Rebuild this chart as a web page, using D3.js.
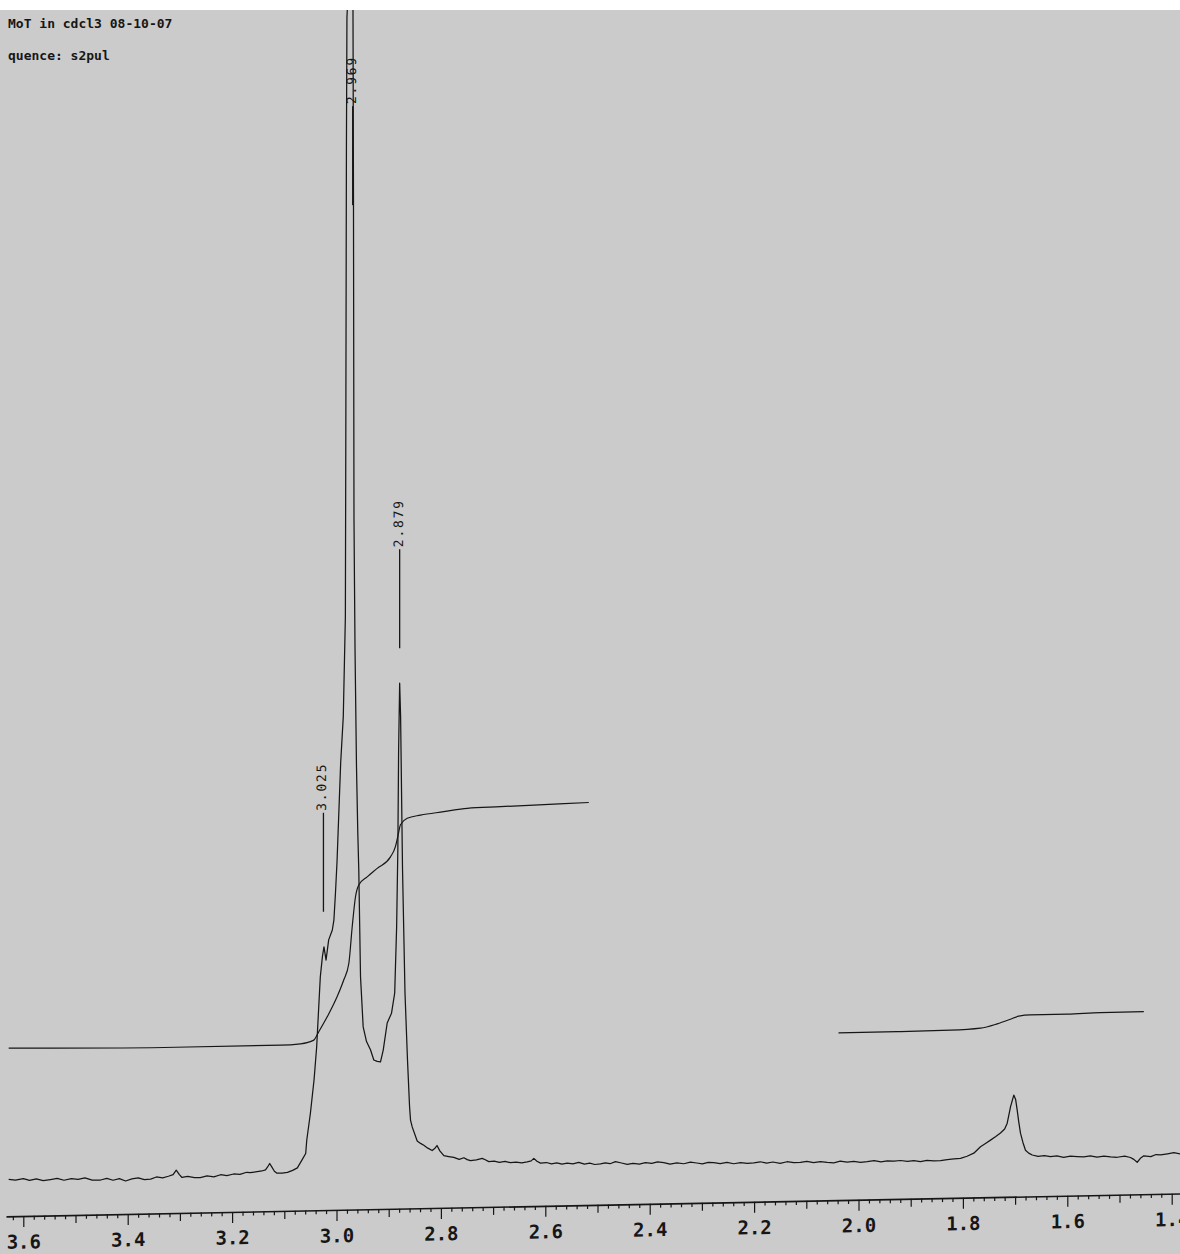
<!DOCTYPE html>
<html>
<head>
<meta charset="utf-8">
<script src="https://cdn.jsdelivr.net/npm/d3@7"></script>
<style>
  html, body { margin: 0; padding: 0; background: #fff; }
  svg { display: block; }
</style>
</head>
<body>
<script>
// 1H NMR trace, chemical shift (ppm) against relative intensity
const shiftPpm = [
  3.628, 3.615, 3.600, 3.588, 3.575, 3.562, 3.548, 3.535, 3.522, 3.508,
  3.495, 3.482, 3.468, 3.452, 3.440, 3.428, 3.416, 3.404, 3.392, 3.380,
  3.368, 3.356, 3.345, 3.333, 3.322, 3.313, 3.307, 3.301, 3.296, 3.285,
  3.272, 3.261, 3.248, 3.235, 3.222, 3.210, 3.197, 3.185, 3.172, 3.165,
  3.152, 3.143, 3.136, 3.132, 3.128, 3.124, 3.119, 3.114, 3.104, 3.094,
  3.084, 3.075, 3.066, 3.059, 3.057, 3.050, 3.043, 3.038, 3.034, 3.031,
  3.027, 3.024, 3.020, 3.015, 3.008, 3.005, 3.002, 2.999, 2.992, 2.987,
  2.983, 2.982, 2.981, 2.980, 2.969, 2.9675, 2.9665, 2.9655, 2.9645, 2.9617,
  2.9592, 2.9573, 2.954, 2.9489, 2.9425, 2.9349, 2.9285, 2.922, 2.9157, 2.9105,
  2.9029, 2.8946, 2.8885, 2.8848, 2.8825, 2.881, 2.879, 2.8772, 2.8748, 2.8735,
  2.8688, 2.864, 2.860, 2.8582, 2.855, 2.8454, 2.839, 2.8328, 2.825, 2.8167,
  2.812, 2.8075, 2.802, 2.7944, 2.785, 2.7753, 2.765, 2.756, 2.7496, 2.7433,
  2.732, 2.7209, 2.715, 2.7082, 2.698, 2.688, 2.677, 2.6667, 2.656, 2.645,
  2.6347, 2.627, 2.622, 2.616, 2.6092, 2.598, 2.588, 2.578, 2.568, 2.558,
  2.547, 2.536, 2.525, 2.515, 2.505, 2.4943, 2.485, 2.476, 2.4655, 2.454,
  2.4431, 2.432, 2.420, 2.408, 2.396, 2.385, 2.373, 2.361, 2.348, 2.3347,
  2.322, 2.310, 2.299, 2.288, 2.2772, 2.265, 2.252, 2.2389, 2.226, 2.213,
  2.2006, 2.188, 2.176, 2.164, 2.150, 2.137, 2.124, 2.1111, 2.099, 2.086,
  2.073, 2.060, 2.0473, 2.035, 2.022, 2.009, 1.996, 1.9833, 1.970, 1.957,
  1.945, 1.932, 1.9195, 1.906, 1.894, 1.8812, 1.869, 1.856, 1.8429, 1.830,
  1.817, 1.8046, 1.792, 1.7791, 1.7663, 1.756, 1.7471, 1.737, 1.728, 1.720,
  1.7151, 1.7088, 1.7025, 1.699, 1.696, 1.693, 1.6897, 1.685, 1.6801, 1.674,
  1.6672, 1.656, 1.644, 1.6322, 1.620, 1.607, 1.594, 1.581, 1.5684, 1.556,
  1.543, 1.530, 1.517, 1.5044, 1.490, 1.479, 1.4726, 1.4661, 1.460, 1.4534,
  1.440, 1.430, 1.4215, 1.408, 1.396, 1.383
];
const intensity = [
  0.3, 0.1, 0.4, 0.0, 0.3, -0.1, 0.1, 0.3, -0.1, 0.2,
  0.0, 0.3, -0.2, -0.2, 0.1, -0.3, 0.0, -0.5, -0.1, 0.1,
  -0.3, -0.2, 0.2, 0.0, 0.3, 0.6, 1.5, 0.6, 0.0, 0.2,
  -0.1, -0.1, 0.2, 0.0, 0.4, 0.2, 0.5, 0.4, 0.8, 0.7,
  0.9, 1.0, 1.2, 1.8, 2.5, 1.8, 0.9, 0.5, 0.5, 0.6,
  1.0, 1.5, 3.1, 4.4, 7.1, 12.6, 19.4, 26.1, 34.3, 40.4,
  44.5, 46.5, 43.8, 47.9, 49.9, 51.9, 57.4, 63.8, 84.0, 93.4,
  113.8, 158, 209, 236, 262, 200, 134, 120, 107, 83.1,
  69.6, 62.0, 40.3, 30.0, 27.0, 25.3, 23.2, 22.9, 22.8, 25.2,
  30.7, 32.7, 36.8, 50.3, 66.0, 86.4, 100, 93.2, 72.8, 61.9,
  36.8, 23.1, 13.5, 10.8, 9.4, 6.5, 6.0, 5.6, 5.0, 4.5,
  4.9, 5.5, 4.4, 3.4, 3.2, 3.0, 2.6, 2.9, 2.5, 2.3,
  2.4, 2.7, 2.4, 2.0, 2.1, 1.8, 2.0, 1.7, 1.8, 1.6,
  1.8, 2.0, 2.5, 1.9, 1.5, 1.6, 1.3, 1.5, 1.2, 1.4,
  1.2, 1.5, 1.1, 1.3, 1.0, 1.1, 1.3, 1.1, 1.5, 1.2,
  0.9, 1.1, 0.9, 1.2, 1.0, 1.3, 1.1, 0.8, 1.0, 0.8,
  1.1, 0.9, 0.7, 1.0, 0.9, 0.7, 0.9, 0.6, 0.8, 0.6,
  0.7, 0.9, 0.6, 0.8, 0.5, 0.8, 0.6, 0.6, 0.8, 0.5,
  0.7, 0.5, 0.4, 0.7, 0.5, 0.6, 0.4, 0.5, 0.7, 0.4,
  0.6, 0.5, 0.6, 0.4, 0.5, 0.3, 0.5, 0.4, 0.4, 0.6,
  0.7, 0.8, 1.2, 1.8, 3.1, 3.8, 4.4, 5.1, 5.8, 6.6,
  7.8, 11.1, 13.5, 12.6, 10.4, 8.0, 5.7, 3.8, 2.2, 1.6,
  1.2, 0.9, 1.0, 0.8, 0.9, 0.6, 0.8, 0.7, 0.6, 0.8,
  0.5, 0.7, 0.5, 0.4, 0.6, 0.3, -0.1, -0.7, 0.1, 0.6,
  0.4, 0.8, 0.7, 0.9, 1.1, 0.8
];

// integral traces
const integralOnePpm = [
  3.628, 3.308, 3.107, 3.069, 3.0435, 3.0339, 3.0178, 2.9987, 2.986, 2.9764,
  2.9699, 2.9636, 2.9573, 2.9412, 2.922, 2.8966, 2.887, 2.8826, 2.8774, 2.8646,
  2.8391, 2.7944, 2.7496, 2.6858, 2.622, 2.5167
];
const integralOneValue = [
  27.1, 26.6, 26.6, 26.8, 27.5, 29.2, 32.2, 36.3, 39.7, 43.0,
  50.5, 56.6, 59.0, 60.6, 62.3, 64.6, 66.7, 68.7, 71.1, 72.4,
  73.0, 73.6, 74.2, 74.4, 74.6, 74.9
];
const integralTwoPpm = [
  2.0383, 1.9195, 1.8238, 1.7663, 1.7343, 1.7088, 1.6929, 1.6705, 1.6002, 1.5364, 1.4534
];
const integralTwoValue = [
  26.9, 26.9, 27.0, 27.3, 28.1, 29.0, 29.6, 29.8, 29.8, 30.0, 30.0
];

// picked peaks
const peakShifts = [3.025, 2.969, 2.879];
const peakLabels = ["3.025", "2.969", "2.879"];

// labelled axis ticks
const tickLabelValues = [3.6, 3.4, 3.2, 3.0, 2.8, 2.6, 2.4, 2.2, 2.0, 1.8, 1.6, 1.4];

const headerLines = ["MoT in cdcl3 08-10-07", "quence: s2pul"];

const W = 1180, H = 1254;
const ink = "#161616";
const mono = "'DejaVu Sans Mono', 'Liberation Mono', monospace";

const svg = d3.select("body").append("svg")
  .attr("width", W).attr("height", H);

svg.append("rect").attr("width", W).attr("height", H).attr("fill", "#cbcbcb");

const pxPerPpm = 522;
const x = d3.scaleLinear().domain([3.0, 2.0]).range([336.5, 336.5 + pxPerPpm]);
const y = d3.scaleLinear().domain([0, 100]).range([1181, 691]);

// the plotted sheet runs slightly uphill to the right
const plot = svg.append("g").attr("transform", "matrix(1,-0.0195,0,1,0,0)");

const toPoints = (ps, vs) => ps.map((p, i) => ({ ppm: p, v: vs[i] }));
const line = d3.line().x(d => x(d.ppm)).y(d => y(d.v));

plot.append("path")
  .datum(toPoints(shiftPpm, intensity))
  .attr("d", line)
  .attr("fill", "none").attr("stroke", ink)
  .attr("stroke-width", 1.25).attr("stroke-linejoin", "round");

[[integralOnePpm, integralOneValue], [integralTwoPpm, integralTwoValue]].forEach(([ps, vs]) => {
  plot.append("path")
    .datum(toPoints(ps, vs))
    .attr("d", line.curve(d3.curveMonotoneX))
    .attr("fill", "none").attr("stroke", ink)
    .attr("stroke-width", 1.2);
  line.curve(d3.curveLinear);
});

// peak markers: vertical tick above each peak with its rotated shift label
const spectrum = toPoints(shiftPpm, intensity);
peakShifts.forEach((s, i) => {
  const near = spectrum.filter(d => Math.abs(d.ppm - s) <= 0.004);
  const h = d3.max(near, d => d.v);
  const bottom = Math.max(y(h) - 35, 212);
  const top = bottom - 99;
  const px = x(s);
  plot.append("line")
    .attr("x1", px).attr("x2", px).attr("y1", top).attr("y2", bottom)
    .attr("stroke", ink).attr("stroke-width", 1.3);
  plot.append("g")
    .attr("transform", `translate(${px},${top}) rotate(-90)`)
    .append("text")
    .attr("x", 2).attr("y", 3)
    .attr("font-family", mono).attr("font-size", 13)
    .attr("letter-spacing", 1.8)
    .attr("fill", ink)
    .text(peakLabels[i]);
});

// ppm axis
const axisY = 1216.5;
const axisScale = x.copy().domain([x.invert(6), x.invert(1184)]).range([6, 1184]);
const allTicks = d3.range(69, 182).map(i => +(i * 0.02).toFixed(2));
const isMult = (v, step) => Math.abs(v / step - Math.round(v / step)) < 1e-6;
const minorTicks = allTicks.filter(v => !isMult(v, 0.1));
const midTicks = d3.range(14, 37).map(i => +(i * 0.1).toFixed(1)).filter(v => !isMult(v, 0.2));

const axisG = plot.append("g").attr("transform", `translate(0,${axisY})`);
axisG.append("g")
  .call(d3.axisBottom(axisScale).tickValues(minorTicks).tickSize(4).tickSizeOuter(0).tickFormat(""));
axisG.append("g")
  .call(d3.axisBottom(axisScale).tickValues(midTicks).tickSize(8).tickSizeOuter(0).tickFormat(""))
  .call(g => g.select(".domain").remove());
axisG.append("g")
  .call(d3.axisBottom(axisScale).tickValues(tickLabelValues).tickSize(11).tickSizeOuter(0)
    .tickFormat(d3.format(".1f")))
  .call(g => g.select(".domain").remove());

axisG.selectAll(".domain").attr("stroke", ink).attr("stroke-width", 1.6);
axisG.selectAll(".tick line").attr("stroke", ink).attr("stroke-width", 1.2);
axisG.selectAll(".tick text")
  .attr("y", 19).attr("dy", "0.71em")
  .attr("font-family", mono).attr("font-weight", "bold")
  .attr("font-size", 19).attr("fill", ink);

// blank strip along the top edge
svg.append("rect").attr("width", W).attr("height", 10).attr("fill", "#ffffff");

// run header
svg.selectAll("text.header")
  .data(headerLines)
  .enter().append("text")
  .attr("class", "header")
  .attr("x", 8)
  .attr("y", (d, i) => i === 0 ? 28.3 : 60)
  .attr("font-family", mono).attr("font-weight", "bold")
  .attr("font-size", 13).attr("fill", ink)
  .text(d => d);
</script>
</body>
</html>
